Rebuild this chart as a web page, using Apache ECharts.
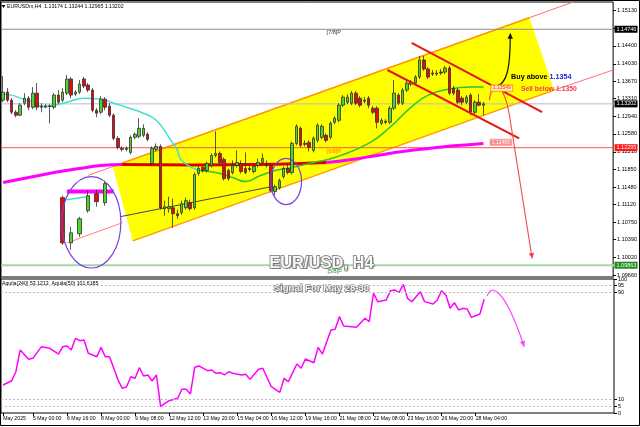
<!DOCTYPE html>
<html><head><meta charset="utf-8">
<script src="https://cdn.jsdelivr.net/npm/echarts@6/dist/echarts.min.js"></script>
<style>html,body{margin:0;padding:0;background:#fff}#c{width:640px;height:427px}</style>
</head><body><div id="c"></div>
<script>
const FONT = '"Liberation Sans", Arial, sans-serif';

// ---- price data (H4 candles) ----
const opens = [1.13279,1.13445,1.13279,1.13029,1.12967,1.13216,1.13320,1.13133,1.13424,1.13154,
 1.13133,1.13154,1.13133,1.13383,1.13279,1.13424,1.13716,1.13404,1.13445,1.13716,
 1.13591,1.13487,1.13071,1.13029,1.13300,1.13154,1.12967,1.12488,1.12280,1.12260,
 1.12197,1.12509,1.12530,1.12551,1.12572,1.11968,1.12260,1.12322,1.11032,1.11032,
 1.11053,1.10928,1.10949,1.11053,1.11157,1.11053,1.11760,1.11885,1.11823,1.11927,
 1.12135,1.12176,1.12052,1.11823,1.11781,1.11927,1.11968,1.11864,1.11864,1.11802,
 1.11927,1.11989,1.11948,1.11927,1.11386,1.11469,1.11698,1.11864,1.11781,1.12384,
 1.12696,1.12384,1.12405,1.12239,1.12447,1.12509,1.12551,1.12509,1.12821,1.12863,
 1.13175,1.13237,1.13216,1.13424,1.13320,1.13279,1.13320,1.13112,1.13112,1.12800,
 1.12842,1.12821,1.13112,1.13383,1.13216,1.13487,1.13612,1.13632,1.13757,1.14111,
 1.13924,1.13840,1.13820,1.13861,1.13861,1.13944,1.13528,1.13487,1.13320,1.13237,
 1.13383,1.13029,1.13237,1.13174];
const closes = [1.13445,1.13279,1.13029,1.12967,1.13175,1.13320,1.13133,1.13424,1.13133,1.13133,
 1.13154,1.13150,1.13383,1.13237,1.13445,1.13716,1.13383,1.13445,1.13612,1.13570,
 1.13487,1.13071,1.13008,1.13300,1.13133,1.12967,1.12488,1.12301,1.12260,1.12280,
 1.12509,1.12572,1.12696,1.12696,1.12468,1.12280,1.12322,1.11053,1.11074,1.11074,
 1.10928,1.10887,1.11136,1.11199,1.11032,1.11740,1.11864,1.11823,1.11968,1.12135,
 1.12176,1.11989,1.11656,1.11656,1.11927,1.11989,1.11802,1.11781,1.11844,1.11906,
 1.11989,1.12072,1.11927,1.11407,1.11490,1.11615,1.11864,1.11781,1.12384,1.12738,
 1.12343,1.12364,1.12301,1.12488,1.12759,1.12738,1.12447,1.12800,1.12904,1.13175,
 1.13341,1.13341,1.13424,1.13216,1.13175,1.13258,1.13175,1.13029,1.12821,1.12863,
 1.12821,1.13112,1.13424,1.13216,1.13487,1.13632,1.13653,1.13757,1.14111,1.13924,
 1.13757,1.13820,1.13840,1.13840,1.13944,1.13424,1.13424,1.13237,1.13237,1.13341,
 1.13029,1.13237,1.13175,1.13202];
const lows = [1.13237,1.13237,1.12988,1.12925,1.12946,1.13175,1.13071,1.13092,1.13071,1.13029,
 1.13112,1.12800,1.13092,1.13196,1.13237,1.13383,1.13320,1.13362,1.13404,1.13528,
 1.13445,1.13029,1.12925,1.12988,1.13071,1.12925,1.12447,1.12260,1.12218,1.12218,
 1.12156,1.12468,1.12488,1.12509,1.12426,1.11927,1.12218,1.11012,1.10887,1.10949,
 1.10637,1.10824,1.10908,1.11012,1.10991,1.11012,1.11719,1.11781,1.11781,1.11885,
 1.12093,1.11948,1.11615,1.11615,1.11740,1.11885,1.11760,1.11740,1.11802,1.11760,
 1.11885,1.11948,1.11885,1.11365,1.11303,1.11428,1.11656,1.11740,1.11740,1.12343,
 1.12301,1.12322,1.12218,1.12197,1.12405,1.12468,1.12405,1.12468,1.12780,1.12821,
 1.13133,1.13196,1.13175,1.13175,1.13133,1.13216,1.13112,1.12988,1.12696,1.12759,
 1.12780,1.12780,1.13071,1.13175,1.13175,1.13445,1.13570,1.13591,1.13716,1.13882,
 1.13716,1.13778,1.13778,1.13799,1.13820,1.13383,1.13383,1.13196,1.13175,1.13196,
 1.12967,1.12967,1.13154,1.12965];
const highs = [1.13778,1.13528,1.13320,1.13071,1.13216,1.13424,1.13362,1.13549,1.13632,1.13216,
 1.13196,1.13196,1.13424,1.13487,1.13528,1.13799,1.13757,1.13487,1.13695,1.13757,
 1.13632,1.13528,1.13112,1.13362,1.13341,1.13216,1.13008,1.12530,1.12322,1.12322,
 1.12551,1.12613,1.12904,1.12780,1.12613,1.12322,1.12384,1.12364,1.11199,1.11282,
 1.11240,1.11012,1.11199,1.11261,1.11220,1.11781,1.11906,1.11927,1.12010,1.12176,
 1.12634,1.12218,1.12093,1.11864,1.12031,1.12239,1.12031,1.12197,1.11927,1.11948,
 1.12072,1.12176,1.12031,1.11968,1.11532,1.11656,1.11906,1.11968,1.12426,1.12780,
 1.12738,1.12447,1.12447,1.12530,1.12800,1.12780,1.12592,1.12842,1.12946,1.13216,
 1.13383,1.13404,1.13466,1.13466,1.13362,1.13341,1.13362,1.13154,1.13154,1.12904,
 1.12884,1.13154,1.13695,1.13424,1.13528,1.13674,1.13695,1.13799,1.14194,1.14194,
 1.13965,1.13903,1.13903,1.13924,1.13986,1.13986,1.13570,1.13528,1.13362,1.13383,
 1.13424,1.13279,1.13404,1.13244];

// moving averages, [bar, price]
const maFastCyan = [[0,1.13400],[2,1.13383],[4,1.13320],[7,1.13237],[9,1.13154],[12,1.13175],[15,1.13237],[19,1.13320],[23,1.13300],[26,1.13216],[29,1.13133],[33,1.13008],[36,1.12863],[39,1.12509],[41,1.12239],[42,1.12031],[46,1.11823]];
const maFastGreen = [[46,1.11823],[50,1.11781],[54,1.11677],[57,1.11594],[60,1.11698],[64,1.11823],[68,1.11885],[73,1.11989],[78,1.12093],[86,1.12384],[91,1.12717],[96,1.13133],[100,1.13383],[105,1.13508],[110,1.13549],[113,1.13549]];
const maSlowMagentaA = [[0,1.11573],[6,1.11677],[12,1.11781],[18,1.11864],[23,1.11927],[28,1.11948]];
const maSlowRed = [[28,1.11948],[45,1.11938],[60,1.11948],[70,1.11968],[76,1.11989]];
const maSlowMagentaB = [[76,1.11989],[82,1.12052],[88,1.12135],[94,1.12218],[100,1.12280],[106,1.12333],[113,1.12384]];

// Aquila oscillator, [bar, value]
const aquila = [[0,20.9],[2,24.1],[3,30.8],[4,47.0],[6,40.1],[7,40.8],[9,49.5],[11,48.3],[13,44.0],[14,49.5],[15,50.0],[16,47.0],[17,55.7],[18,54.0],[19,54.5],[20,44.6],[22,42.0],[23,49.0],[24,42.0],[25,42.0],[27,24.6],[28,18.4],[29,19.6],[30,27.1],[31,25.9],[32,33.8],[33,27.6],[34,28.4],[35,23.9],[36,28.4],[37,4.7],[38,7.2],[39,9.2],[41,11.0],[42,17.7],[43,17.7],[44,14.2],[45,34.1],[46,35.1],[48,31.6],[49,32.1],[50,29.6],[51,30.1],[52,28.4],[53,30.8],[54,29.6],[56,28.4],[57,28.9],[58,25.1],[59,28.9],[60,32.6],[61,33.4],[63,19.6],[65,15.4],[66,25.9],[67,23.4],[69,36.6],[70,33.4],[71,40.3],[73,37.5],[74,49.0],[75,44.0],[77,61.9],[78,62.5],[79,71.9],[80,64.9],[83,64.0],[85,70.7],[86,68.1],[87,89.3],[88,83.1],[90,84.3],[91,91.3],[92,91.8],[93,89.8],[94,96.0],[95,85.6],[96,83.1],[98,90.5],[99,83.1],[101,81.3],[102,84.3],[103,91.3],[104,88.1],[105,78.1],[106,82.3],[107,76.9],[108,78.1],[109,77.6],[110,71.4],[112,73.9],[113,84.9]];

// magnified candles drawn inside the left ellipse
const insetBars = [14,16,18,20,22,24];
const insetOpen  = [1.11261,1.10325,1.10512,1.10991,1.11344,1.11157];
const insetClose = [1.10325,1.10533,1.10824,1.11303,1.11178,1.11552];
const insetLow   = [1.10284,1.10180,1.10450,1.10949,1.11074,1.11095];
const insetHigh  = [1.11303,1.10658,1.10866,1.11407,1.11428,1.11615];

const priceTicks = [1.09660,1.10020,1.10390,1.10750,1.11120,1.11480,1.11850,1.12210,1.12580,1.12940,1.13310,1.13670,1.14030,1.14400,1.14770,1.15130];
const aquilaTicks = [0,5,10,90,95,100];
const timeLabelBars = [0,7,15,23,31,39,47,55,63,71,79,87,95,103,111];
const timeLabelTexts = ['May 2025','5 May 00:00','6 May 16:00','8 May 00:00','9 May 08:00','12 May 12:00','13 May 20:00','15 May 04:00','16 May 12:00','19 May 16:00','21 May 08:00','22 May 08:00','23 May 16:00','26 May 20:00','28 May 04:00'];

const levelMurray78 = 1.14746, levelBid = 1.13202, levelMurray68 = 1.12295, levelMurray58 = 1.09863;
const maFastLast = '1.13549', maSlowLast = '1.12495';

// drawings in [bar, price]
const yellowChannel = [[25.8,1.11906],[123.8,1.14984],[129.6,1.13487],[30.5,1.10367]];
const upperRay = [[20,1.11723],[134,1.15307]];
const lowerRay = [[129.6,1.13487],[143.5,1.13903]];
const insetRay = [[15,1.10325],[28,1.10741]];
const connector = [[27.5,1.10866],[63.2,1.11490]];
const downUpper = [[96.1,1.14464],[126.8,1.13029]];
const downLower = [[90.4,1.13903],[121.4,1.12488]];
const ellipse1 = [13.8,27.7,1.11698,1.09805];
const ellipse2 = [62.9,70.2,1.12072,1.11116];

const cats = Array.from({length:144},(_,i)=>String(i));
const labelMap = {}; timeLabelBars.forEach((b,k)=>labelMap[b]=timeLabelTexts[k]);
const labelSet = new Set(timeLabelBars);
const candleData = opens.map((o,i)=>[o,closes[i],lows[i],highs[i]]);
const insetData = cats.map((_,i)=>{const k=insetBars.indexOf(i);return k<0?'-':[insetOpen[k],insetClose[k],insetLow[k],insetHigh[k]];});

const chart = echarts.init(document.getElementById('c'), null, {renderer:'canvas', width:640, height:427});
const option = {
  animation:false, backgroundColor:'#fff',
  grid:[
    {left:1, top:2, width:613, height:275, show:true, borderColor:'#000', borderWidth:1},
    {left:1, top:279, width:613, height:134, show:true, borderColor:'#000', borderWidth:1}
  ],
  xAxis:[
    {type:'category', gridIndex:0, data:cats, boundaryGap:true, show:false},
    {type:'category', gridIndex:1, data:cats, boundaryGap:true,
     axisLine:{show:false},
     axisTick:{show:true, interval:(i)=>labelSet.has(i), alignWithLabel:true, length:3, lineStyle:{color:'#000'}},
     axisLabel:{interval:(i)=>labelSet.has(i), formatter:(v)=>labelMap[Number(v)]||'', align:'left', fontSize:5.2, color:'#000', margin:3, fontFamily:FONT}}
  ],
  yAxis:[
    {type:'value', gridIndex:0, position:'right', min:1.09619, max:1.15310,
     axisLine:{show:false}, splitLine:{show:false},
     axisTick:{show:true, customValues:priceTicks, length:3, lineStyle:{color:'#000'}},
     axisLabel:{customValues:priceTicks, formatter:v=>v.toFixed(5), fontSize:5.5, color:'#000', margin:4, fontFamily:FONT}},
    {type:'value', gridIndex:1, position:'right', min:0, max:100,
     axisLine:{show:false}, splitLine:{show:false},
     axisTick:{show:true, customValues:aquilaTicks, length:3, lineStyle:{color:'#000'}},
     axisLabel:{customValues:aquilaTicks, fontSize:5.5, color:'#000', margin:4, fontFamily:FONT}}
  ],
  series:[
    {type:'line', xAxisIndex:0, yAxisIndex:0, data:maSlowMagentaA, smooth:true, showSymbol:false, z:2, lineStyle:{color:'#ff00ff', width:3}},
    {type:'line', xAxisIndex:0, yAxisIndex:0, data:maSlowRed, smooth:true, showSymbol:false, z:2, lineStyle:{color:'#e00000', width:3}},
    {type:'line', xAxisIndex:0, yAxisIndex:0, data:maSlowMagentaB, smooth:true, showSymbol:false, z:2, lineStyle:{color:'#ff00ff', width:3}},
    {type:'line', xAxisIndex:0, yAxisIndex:0, data:maFastCyan, smooth:true, showSymbol:false, z:2, lineStyle:{color:'#40e0d0', width:1.5}},
    {type:'line', xAxisIndex:0, yAxisIndex:0, data:maFastGreen, smooth:true, showSymbol:false, z:2, lineStyle:{color:'#2ec42e', width:1.5}},
    {type:'candlestick', xAxisIndex:0, yAxisIndex:0, data:candleData, barWidth:3, z:3,
     itemStyle:{color:'#4cd62a', color0:'#e80a0a', borderColor:'#303030', borderColor0:'#303030', borderWidth:0.8}},
    {type:'candlestick', xAxisIndex:0, yAxisIndex:0, data:insetData, barWidth:4, z:3,
     itemStyle:{color:'#4cd62a', color0:'#e80a0a', borderColor:'#303030', borderColor0:'#303030', borderWidth:0.8}},
    {type:'line', xAxisIndex:1, yAxisIndex:1, data:aquila, showSymbol:false, z:3, lineStyle:{color:'#ff00ff', width:1.5},
     markLine:{silent:true, symbol:['none','none'], label:{show:false}, animation:false,
       lineStyle:{color:'#bdbdbd', width:1, type:[2,2]},
       data:[{yAxis:95},{yAxis:90},{yAxis:10},{yAxis:5}]}}
  ]
};
chart.setOption(option);

const x0 = chart.convertToPixel({xAxisIndex:0}, 0);
const x1 = chart.convertToPixel({xAxisIndex:0}, 1);
const bw = x1 - x0;
const X = i => x0 + i*bw;
const Y = p => chart.convertToPixel({yAxisIndex:0}, p);
const YI = v => chart.convertToPixel({yAxisIndex:1}, v);
const P = ([i,p]) => [X(i), Y(p)];

const ctx = document.createElement('canvas').getContext('2d');
function tw(text, size, weight){ ctx.font = (weight||'normal')+' '+size+'px '+FONT; return ctx.measureText(text).width; }
function line(a,b,color,w,z){return {type:'line', silent:true, z, shape:{x1:a[0],y1:a[1],x2:b[0],y2:b[1]}, style:{stroke:color, lineWidth:w}};}
function txt(x,y,text,o){o=o||{};return {type:'text', silent:true, x, y, z:o.z||8, style:{text, fill:o.fill||'#000', fontSize:o.size||6, fontWeight:o.weight||'normal', fontFamily:FONT, align:o.align||'left', verticalAlign:'middle', textAlign:o.align||'left', textVerticalAlign:'middle', stroke:o.stroke||null, lineWidth:o.lw||0}};}
function head(tip, from, size, color, z){const dx=tip[0]-from[0], dy=tip[1]-from[1]; const L=Math.hypot(dx,dy); const ux=dx/L, uy=dy/L; const bx=tip[0]-ux*size, by=tip[1]-uy*size; const px=-uy*size*0.45, py=ux*size*0.45; return {type:'polygon', silent:true, z, shape:{points:[tip,[bx+px,by+py],[bx-px,by-py]]}, style:{fill:color}};}

const g = [];
const gl = 1, gr = 614;
// horizontal levels (Murray + bid)
g.push(line([gl,Y(levelMurray78)],[gr,Y(levelMurray78)],'#8c8c8c',1,1.2));
g.push(line([gl,Y(levelBid)],[gr,Y(levelBid)],'#b8bcc8',1,1.2));
g.push(line([gl,Y(levelMurray68)],[gr,Y(levelMurray68)],'#ff5050',1,1.2));
g.push(line([gl,Y(levelMurray58)],[gr,Y(levelMurray58)],'#a6d6a6',2,1.2));
// yellow channel
g.push({type:'polygon', silent:true, z:0.5, shape:{points:yellowChannel.map(P)}, style:{fill:'#ffff00'}});
g.push(line(P(upperRay[0]),P(upperRay[1]),'#ff7070',1,0.4));
g.push(line(P(lowerRay[0]),P(lowerRay[1]),'#ff7070',1,0.4));
g.push(line(P(yellowChannel[0]),P(yellowChannel[1]),'#ff9900',1.5,1));
g.push(line(P(yellowChannel[3]),P(yellowChannel[2]),'#ff9900',1.5,1));
g.push(line(P(insetRay[0]),P(insetRay[1]),'#ff8080',1,1));
g.push(line(P(connector[0]),P(connector[1]),'#4a3f55',1,1));
// descending channel
g.push(line(P(downUpper[0]),P(downUpper[1]),'#e8141a',2,5));
g.push(line(P(downLower[0]),P(downLower[1]),'#e8141a',2,5));
// ellipses
[ellipse1, ellipse2].forEach(e=>{
  const l=X(e[0]), r=X(e[1]), t=Y(e[2]), b=Y(e[3]);
  g.push({type:'ellipse', silent:true, z:5, shape:{cx:(l+r)/2, cy:(t+b)/2, rx:(r-l)/2, ry:(b-t)/2}, style:{fill:'none', stroke:'#7b3fe0', lineWidth:1.2}});
});
// inset MA strokes
g.push(line([X(15),Y(1.11386)],[X(26),Y(1.11386)],'#ff00ff',4,2.5));
g.push(line([X(15),Y(1.11220)],[X(19.5),Y(1.11282)],'#40e0d0',1.5,2.5));

// black arrow (buy)
{const s=P([116.0,1.13570]), c1=P([118.4,1.13612]), c2=P([119.3,1.13903]), e=P([119.3,1.14672]);
 g.push({type:'bezierCurve', silent:true, z:6, shape:{x1:s[0],y1:s[1],cpx1:c1[0],cpy1:c1[1],cpx2:c2[0],cpy2:c2[1],x2:e[0],y2:e[1]+3}, style:{stroke:'#111', lineWidth:1.2, fill:'none'}});
 g.push(head(e,c2,6,'#111',6));}
// red arrow (sell)
{const s=P([114.4,1.13279]), c1=P([114.8,1.13653]), c2=P([117.7,1.13695]), m=P([119.1,1.12967]), e=P([124.5,1.09992]);
 g.push({type:'bezierCurve', silent:true, z:6, shape:{x1:s[0],y1:s[1],cpx1:c1[0],cpy1:c1[1],cpx2:c2[0],cpy2:c2[1],x2:m[0],y2:m[1]}, style:{stroke:'#f04848', lineWidth:1.1, fill:'none'}});
 g.push(line(m,[e[0]-0.6,e[1]-3],'#f04848',1.1,6));
 g.push(head(e,m,6,'#f04848',6));}
// magenta arrow (oscillator)
{const s=[X(113.9),YI(87.3)], c1=[X(114.6),YI(95.5)], c2=[X(117.7),YI(96.3)], e=[X(122.6),YI(49.3)];
 g.push({type:'bezierCurve', silent:true, z:6, shape:{x1:s[0],y1:s[1],cpx1:c1[0],cpy1:c1[1],cpx2:c2[0],cpy2:c2[1],x2:e[0],y2:e[1]}, style:{stroke:'#ff40ff', lineWidth:1.1, fill:'none'}});
 g.push(head(e,c2,6,'#ff40ff',6));}

// MA end labels
{const c=P([117.3,1.13528]); const w=22,h=6.5;
 g.push({type:'rect', silent:true, z:6, shape:{x:c[0]-w/2,y:c[1]-h/2,width:w,height:h}, style:{fill:'#ffe9a0', stroke:'#ff8800', lineWidth:0.8}});
 g.push(txt(c[0],c[1],maFastLast,{size:5,fill:'#ff3030',align:'center',z:7}));}
{const c=P([117.1,1.12405]); const w=22,h=6.5;
 g.push({type:'rect', silent:true, z:6, shape:{x:c[0]-w/2,y:c[1]-h/2,width:w,height:h}, style:{fill:'#f58a8a', stroke:'#ffb0b0', lineWidth:0.8}});
 g.push(txt(c[0],c[1],maSlowLast,{size:5,fill:'#fff',align:'center',z:7}));}

// Murray labels
g.push(txt(X(76.1), Y(1.14672), '[7/8]P', {size:5.5, fill:'#333'}));
g.push(txt(X(76.1), Y(1.12218), '[6/8]P', {size:5.5, fill:'#ff7a00'}));
g.push(txt(X(76.3), Y(1.09742), '[5/8]P', {size:5.5, fill:'#2a8a2a'}));

// Buy / Sell texts
{const x=X(119.5), y=Y(1.13763); const a='Buy above '; const wa=tw(a,7.2,'bold');
 g.push(txt(x,y,a,{size:7.2,weight:'bold',fill:'#000'}));
 g.push(txt(x+wa,y,'1.1354',{size:7.2,weight:'bold',fill:'#2222dd'}));}
{const x=X(121.8), y=Y(1.13501);
 g.push(txt(x,y,'Sell below 1.1350',{size:6.8,weight:'bold',fill:'#f03a50'}));}

// big titles
{const x=X(74.4)+2, y=Y(1.09909);
 g.push(txt(x+1.5,y+1.5,'EUR/USD, H4',{size:16.5,weight:'bold',fill:'#9a9a9a',align:'center',z:7}));
 g.push(txt(x,y,'EUR/USD, H4',{size:16.5,weight:'bold',fill:'#f6f6f6',stroke:'#707070',lw:1.4,align:'center',z:8}));}
{const x=X(74.4)+2, y=YI(93.3);
 g.push(txt(x+1,y+1,'Signal For May 28-30',{size:9.6,weight:'bold',fill:'#9a9a9a',align:'center',z:7}));
 g.push(txt(x,y,'Signal For May 28-30',{size:9.6,weight:'bold',fill:'#f6f6f6',stroke:'#707070',lw:1.2,align:'center',z:8}));}

// right axis price boxes
[[levelMurray78,'#000'],[levelBid,'#000'],[levelMurray68,'#ff1a1a'],[levelMurray58,'#1e8c1e']].forEach(([v,col])=>{
  const y=Y(v);
  g.push({type:'rect', silent:true, z:9, shape:{x:614.5,y:y-3.5,width:23,height:7}, style:{fill:col}});
  g.push(txt(616.5,y,v.toFixed(5),{size:5.5,fill:'#fff',z:10}));
});

// panel separator, frame, title, indicator legend
g.push({type:'rect', silent:true, z:9, shape:{x:1,y:276.5,width:613,height:2.5}, style:{fill:'#7a7a7a'}});
g.push({type:'rect', silent:true, z:9, shape:{x:0.5,y:0.5,width:639,height:425}, style:{fill:'none', stroke:'#000', lineWidth:1}});
g.push({type:'polygon', silent:true, z:9, shape:{points:[[1.5,5],[5.5,5],[3.5,8]]}, style:{fill:'#000'}});
g.push(txt(7,6.8,'EURUSDm,H4  1.13174 1.13244 1.12965 1.13202',{size:5.2,fill:'#000',z:9}));
g.push(txt(2,283.5,'Aquila(240) 53.1213  Aquila(50) 101.6185',{size:5.2,fill:'#000',z:9}));

chart.setOption({graphic:{elements:g}});
</script>
</body></html>
